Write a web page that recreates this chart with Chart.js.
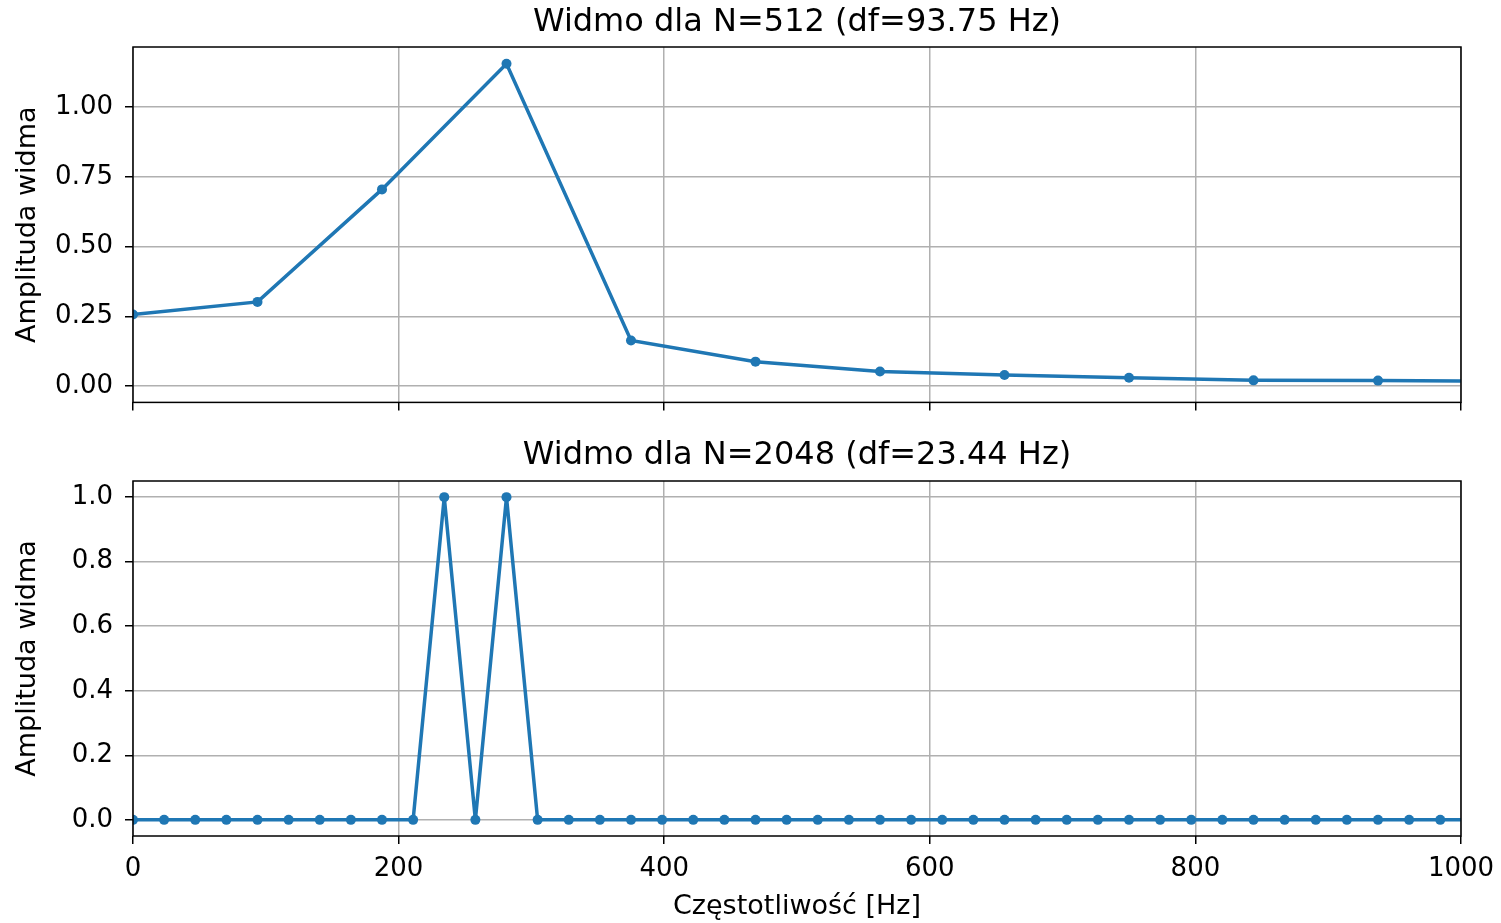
<!DOCTYPE html>
<html>
<head>
<meta charset="utf-8">
<script src="https://cdn.jsdelivr.net/npm/chart.js@4.4.1/dist/chart.umd.min.js"></script>
<style>
  html, body { margin: 0; padding: 0; background: #fff; }
  #wrap { position: relative; width: 1501px; height: 923px; }
  #c1 { position: absolute; left: 0; top: 0; }
  #c2 { position: absolute; left: 0; top: 430px; }
</style>
</head>
<body>
<div id="wrap">
  <canvas id="c1" width="1501" height="430"></canvas>
  <canvas id="c2" width="1501" height="493"></canvas>
</div>
<script>
// ---------- Dane ----------
const tytulGora = 'Widmo dla N=512 (df=93.75 Hz)';
const tytulDol = 'Widmo dla N=2048 (df=23.44 Hz)';
const etykietaX = 'Częstotliwość [Hz]';
const etykietaY = 'Amplituda widma';

// N=512, df = 93.75 Hz
const czestGora = [0, 93.75, 187.5, 281.25, 375, 468.75, 562.5, 656.25, 750, 843.75, 937.5, 1031.25];
const amplGora  = [0.257, 0.302, 0.705, 1.155, 0.164, 0.088, 0.053, 0.040, 0.030, 0.021, 0.020, 0.018];

// N=2048, df = 23.44 Hz
const czestDol = [0, 23.44, 46.88, 70.31, 93.75, 117.19, 140.63, 164.06, 187.5, 210.94,
  234.38, 257.81, 281.25, 304.69, 328.13, 351.56, 375, 398.44, 421.88, 445.31,
  468.75, 492.19, 515.63, 539.06, 562.5, 585.94, 609.38, 632.81, 656.25, 679.69,
  703.13, 726.56, 750, 773.44, 796.88, 820.31, 843.75, 867.19, 890.63, 914.06,
  937.5, 960.94, 984.38, 1007.81];
const amplDol = [0, 0, 0, 0, 0, 0, 0, 0, 0, 0,
  1.0, 0, 1.0, 0, 0, 0, 0, 0, 0, 0,
  0, 0, 0, 0, 0, 0, 0, 0, 0, 0,
  0, 0, 0, 0, 0, 0, 0, 0, 0, 0,
  0, 0, 0, 0];

const ticksX = [0, 200, 400, 600, 800, 1000];
const ticksYGora = [0, 0.25, 0.5, 0.75, 1.0];
const ticksYDol = [0, 0.2, 0.4, 0.6, 0.8, 1.0];

// ---------- Styl ----------
const KOLOR = '#1f77b4';
const SIATKA = '#b0b0b0';
const FONT = "'DejaVu Sans', sans-serif";

Chart.defaults.font.family = FONT;
Chart.defaults.color = '#000';

// ramka osi (spines) jak w matplotlib
const ramka = {
  id: 'ramka',
  afterDatasetsDraw(chart){
    const {ctx, chartArea: a} = chart;
    ctx.save();
    ctx.strokeStyle = '#000';
    ctx.lineWidth = 1.5;
    ctx.strokeRect(a.left, a.top, a.right - a.left, a.bottom - a.top);
    ctx.restore();
  }
};

function zrobWykres(el, cfg){
  const dane = cfg.x.map((x, i) => ({ x, y: cfg.y[i] }));
  return new Chart(el, {
    type: 'line',
    data: {
      datasets: [{
        data: dane,
        borderColor: KOLOR,
        backgroundColor: KOLOR,
        borderWidth: 3.5,
        pointRadius: 5,
        pointBorderWidth: 0,
        pointBackgroundColor: KOLOR,
        tension: 0,
        clip: 0,
      }]
    },
    options: {
      responsive: false,
      animation: false,
      events: [],
      layout: { padding: { left: 0, right: 40, top: 0, bottom: 0 } },
      plugins: {
        legend: { display: false },
        tooltip: { enabled: false },
        title: {
          display: true,
          text: cfg.tytul,
          fullSize: false,
          font: { size: 32, weight: 'normal' },
          padding: cfg.titlePad,
        }
      },
      scales: {
        x: {
          type: 'linear',
          min: 0, max: 1000,
          afterBuildTicks: (s) => { s.ticks = ticksX.map(v => ({ value: v })); },
          afterFit: (s) => {
            s.height = cfg.xH;
            // etykieta "1000" nie powinna zwężać obszaru wykresu
            s.paddingLeft = 0;
            s.paddingRight = 0;
          },
          grid: { color: SIATKA, lineWidth: 1.5, tickColor: '#000', tickLength: 8, tickWidth: 1.5 },
          border: { display: false },
          ticks: {
            font: { size: 26 },
            padding: 10,
            maxRotation: 0,
            color: cfg.xLabels ? '#000' : 'rgba(0,0,0,0)',
            callback: (v) => String(v),
          },
          title: {
            display: cfg.xLabels,
            text: etykietaX,
            font: { size: 27 },
            padding: { top: 0, bottom: 0 },
          }
        },
        y: {
          type: 'linear',
          min: cfg.yMin, max: cfg.yMax,
          afterBuildTicks: (s) => { s.ticks = cfg.yTicks.map(v => ({ value: v })); },
          afterFit: (s) => { s.width = 133; },
          grid: { color: SIATKA, lineWidth: 1.5, tickColor: '#000', tickLength: 8, tickWidth: 1.5 },
          border: { display: false },
          ticks: {
            font: { size: 26 },
            padding: 12,
            callback: (v) => Number(v).toFixed(cfg.dec),
          },
          title: {
            display: true,
            text: etykietaY,
            font: { size: 27 },
            padding: { top: 12, bottom: 0 },
          }
        }
      }
    },
    plugins: [ramka]
  });
}

zrobWykres(document.getElementById('c1'), {
  x: czestGora, y: amplGora, tytul: tytulGora,
  yMin: -0.058, yMax: 1.215, yTicks: ticksYGora, dec: 2,
  xH: 26, xLabels: false, titlePad: { top: 3, bottom: 5.6 },
});

zrobWykres(document.getElementById('c2'), {
  x: czestDol, y: amplDol, tytul: tytulDol,
  yMin: -0.05, yMax: 1.05, yTicks: ticksYDol, dec: 1,
  xH: 87, xLabels: true, titlePad: { top: 6, bottom: 6.6 },
});
</script>
</body>
</html>
